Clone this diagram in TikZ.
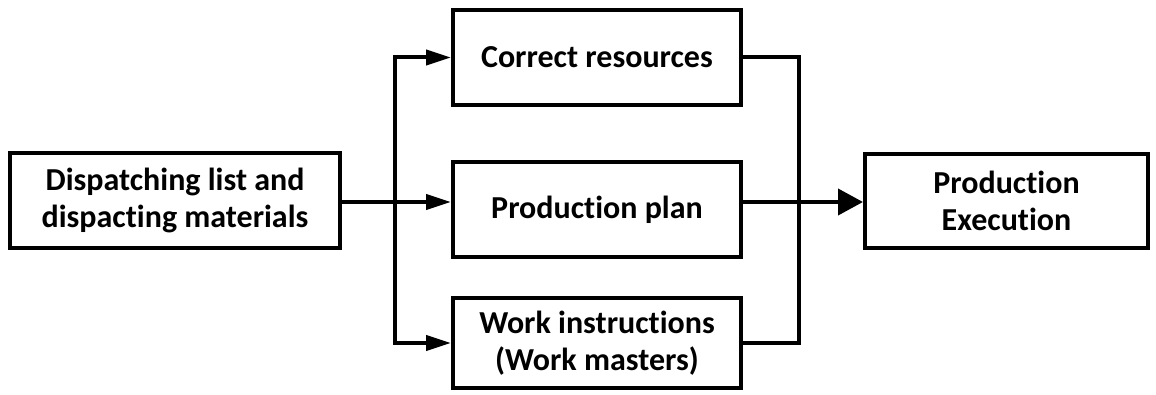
\documentclass[tikz,border=0pt]{standalone}
\usepackage{fontspec}
\setmainfont{Carlito}[Ligatures=NoCommon]
\usetikzlibrary{arrows.meta}
\begin{document}
\begin{tikzpicture}[x=0.5pt,y=-0.5pt,
  box/.style={draw, line width=2pt, inner sep=0pt, align=center,
    font=\fontsize{16}{18.5}\selectfont\bfseries},
  conn/.style={line width=2pt},
  arr/.style={conn, -{Triangle[length=12.5pt,width=7.5pt]}},
  bigarr/.style={conn, -{Triangle[length=12.5pt,width=13pt]}}]
\useasboundingbox (0,0) rectangle (1156,395);

% boxes
\node[box, minimum width=165pt, minimum height=47.5pt] (src) at (175,200.5)
  {Dispatching list and\\dispacting materials};
\node[box, minimum width=144pt, minimum height=47.5pt] (res) at (597,57.5)
  {Correct resources};
\node[box, minimum width=144pt, minimum height=47.5pt] (plan) at (597,209.5)
  {Production plan};
\node[box, minimum width=144pt, minimum height=45pt] (work) at (597,343)
  {Work instructions\\(Work masters)};
\node[box, minimum width=141.5pt, minimum height=47pt] (exec) at (1006.5,201)
  {Production\\Execution};

% routing points
\coordinate (ya) at (0,202);
\coordinate (split) at (395,202);
\coordinate (join) at (799,202);

% fan-out from the dispatching box
\draw[arr] (src.east |- ya) -- (plan.west |- ya);
\draw[arr] (split |- work.west) -- (split |- res.west) -- (res.west);
\draw[arr] (split |- res.west) -- (split |- work.west) -- (work.west);

% fan-in to execution
\draw[conn] (res.east) -- (join |- res.east) -- (join |- work.east) -- (work.east);
\draw[bigarr] (plan.east |- ya) -- (exec.west |- ya);
\end{tikzpicture}
\end{document}
